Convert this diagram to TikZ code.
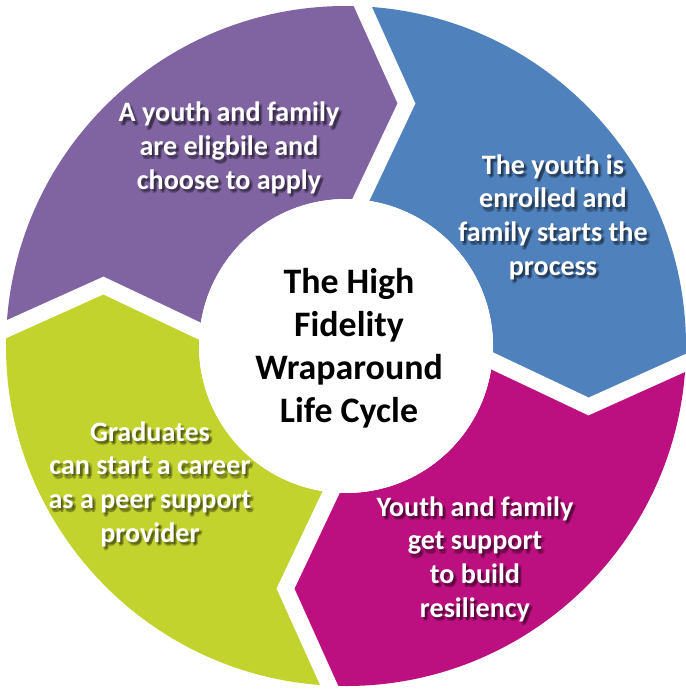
\documentclass[tikz,border=0pt]{standalone}
\usepackage{fontspec}
\setmainfont{Carlito}

\definecolor{cyclepurple}{RGB}{128,100,162}
\definecolor{cycleblue}{RGB}{79,129,189}
\definecolor{cyclemagenta}{RGB}{189,16,128}
\definecolor{cyclegreen}{RGB}{194,211,46}

\tikzset{
  steptext/.style={text=white, align=center, inner sep=0pt,
    font=\bfseries\fontsize{20}{24}\selectfont},
  stepshadow/.style={steptext, text=black, opacity=.18},
  gapline/.style={white, line width=11.5pt, line join=miter},
}

\begin{document}
\begin{tikzpicture}[scale=.025]
  \useasboundingbox (-346,-345) rectangle (340,346);
  % the four arrows of the ring, clockwise from the top left
  \foreach \col [count=\k from 0] in {cyclepurple,cycleblue,cyclemagenta,cyclegreen}
    \fill[\col, rotate=-90*\k] (88:340) arc[start angle=88, end angle=178, radius=340]
      -- (166:250) -- (176:147) arc[start angle=176, end angle=86, radius=147]
      -- (76:250) -- cycle;
  \foreach \k in {0,...,3}
    \draw[gapline, rotate=-90*\k] (88:350) -- (76:250) -- (86:135);
  \fill[white] (0,0) circle (147);
  \node[align=center, inner sep=0pt, font=\bfseries\fontsize{25.5}{30.6}\selectfont]
    (title) at (3,-2) {The High\\Fidelity\\Wraparound\\Life Cycle};
  % labels with a soft shadow
  \foreach \name/\pos/\txt in {
      apply/{(-117,198)}/{A youth and family\\are eligbile and\\choose to apply},
      enrol/{(207,129)}/{The youth is\\enrolled and\\family starts the\\process},
      support/{(129,-213)}/{Youth and family\\get support\\to build\\resiliency},
      career/{(-196,-138)}/{Graduates\\can start a career\\as a peer support\\provider}} {
    \foreach \dx/\dy [count=\s] in {1/-1.5,2/-2.5,2.5/-1.5,1.5/-3}
      \node[stepshadow, xshift=\dx pt, yshift=\dy pt] (\name-sh\s) at \pos {\txt};
    \node[steptext] (\name) at \pos {\txt};
  }
\end{tikzpicture}
\end{document}
